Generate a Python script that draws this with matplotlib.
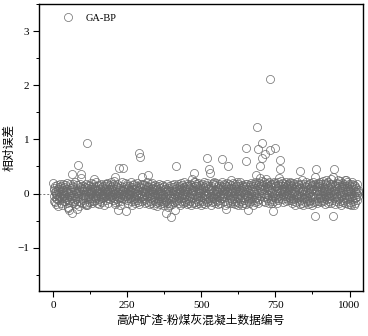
import numpy as np
import matplotlib
matplotlib.use("Agg")
import matplotlib.pyplot as plt
from matplotlib.ticker import MultipleLocator

plt.rcParams['font.family'] = ['Liberation Serif', 'Noto Sans CJK SC', 'DejaVu Sans']
plt.rcParams['axes.unicode_minus'] = True

# relative error band (hundredths), 100 samples per block
seg0 = [20,-13,6,-4,10,-16,3,13,-8,0,-19,5,16,-10,-3,9,-23,4,12,-6,1,-12,18,-5,8,-17,-1,14,-9,4,
        10,-21,-4,6,17,-13,0,-8,12,-3,16,-14,5,-10,3,19,-6,-18,9,1,-26,13,-4,8,-12,17,-1,-16,6,10,
        -5,3,-22,14,-9,0,12,-17,18,-3,8,-13,4,-6,22,-10,1,-19,5,16,-8,9,-14,3,-4,13,-23,6,-1,12,
        -16,4,17,-9,0,-5,10,-18,8,-12]
seg1 = [5,-9,14,-3,-17,8,0,12,-6,18,-12,4,-1,10,-21,6,16,-5,-10,3,13,-16,-4,9,1,-8,19,-13,5,-1,
        -18,12,3,-9,17,-4,-14,8,0,10,-6,14,-12,4,21,-3,-9,6,-17,1,9,-5,13,-19,3,-10,16,-1,8,-13,
        -4,18,-8,0,12,-16,5,-3,14,-9,1,-22,10,-6,17,-4,8,-12,3,13,-14,6,-1,19,-8,4,-18,9,-5,0,
        16,-10,3,-4,12,-21,8,-1,14,-6]
seg2 = [-3,17,-12,5,-8,23,0,-16,9,4,-19,13,-5,1,12,-10,18,-4,-14,8,3,-9,16,-1,-22,6,10,-6,0,14,
        -13,4,21,-8,-3,12,-17,5,9,-1,-10,19,-5,3,-16,8,13,-4,-12,1,17,-8,0,10,-18,4,-3,14,-9,6,
        -1,22,-13,5,-6,12,-21,3,16,-10,8,-4,-14,18,1,-8,9,-17,4,13,-5,0,10,-12,19,-3,-16,6,-9,14,
        3,-19,12,-1,8,-13,17,-6,5,-4]
seg3 = [10,-14,4,18,-8,0,-12,16,-5,9,-18,3,13,-1,-10,6,21,-16,-4,12,-8,14,-19,5,1,-13,17,-3,-9,8,
        4,-17,10,-6,19,-1,-12,3,14,-21,-5,9,-14,0,16,-9,6,-18,12,-3,-23,8,-4,13,-16,1,-8,18,-12,5,
        -1,-19,10,-5,4,-14,16,-9,0,-17,12,-3,-22,8,-10,14,-6,3,-16,9,-13,5,-4,17,-18,0,-8,10,-25,6,
        -3,13,-17,-9,4,-21,12,-5,-14,1]
seg4 = [-10,16,-19,4,-6,12,-16,0,18,-8,-22,9,-3,14,-13,5,-18,1,10,-5,17,-12,-1,8,-17,13,-9,3,-21,6,
        -4,19,-14,0,10,-8,16,-18,4,-3,12,-13,21,-6,-16,5,-1,14,-10,9,-19,3,17,-5,-12,13,0,-17,8,-8,
        18,-4,-14,10,1,-21,16,-9,6,-1,-13,12,4,-18,22,-6,-3,14,-16,5,9,-10,-19,17,0,-5,13,-14,3,19,
        -8,6,-17,10,-4,16,-12,1,-22,8]
seg5 = [4,-13,18,-6,10,-17,1,14,-9,21,-3,-19,12,5,-10,16,-5,0,-16,9,19,-8,3,-14,13,-1,-18,8,17,-12,
        -4,10,-21,6,14,-9,1,-16,18,-5,12,-13,4,22,-8,-1,16,-17,9,0,-10,19,-4,5,-14,13,-19,3,10,-6,
        17,-12,-3,8,-18,14,1,-9,21,-4,-16,6,12,-8,0,18,-13,4,-5,16,-21,9,-1,13,-10,3,19,-17,5,-6,
        14,-3,-12,17,8,-18,0,10,-9,4]
seg6 = [-6,16,-14,9,3,-10,19,-4,-17,12,1,-8,18,-13,5,-19,14,-1,8,-16,22,-5,-12,4,17,-9,0,13,-18,6,
        -3,21,-10,10,-14,3,16,-6,-21,12,5,-17,14,-1,9,-12,18,-8,0,-16,13,4,-19,17,-5,8,-13,23,-3,-9,
        12,-18,1,16,-10,6,-4,19,-14,0,9,-8,14,-21,5,17,-12,3,-5,13,-16,10,-1,18,-9,4,21,-13,8,-6,
        16,-3,-17,12,1,-10,19,-5,9,-14]
seg7 = [13,-4,18,-10,6,23,-8,1,16,-13,9,-1,21,-6,12,-16,4,17,-5,26,-9,10,0,19,-12,14,-3,8,-18,22,
        5,-8,16,-1,12,-14,18,3,-10,25,-4,9,17,-6,1,21,-13,8,14,-3,19,-9,5,13,-17,10,0,22,-5,16,
        -12,4,18,-8,12,1,-14,17,6,-3,23,-10,9,14,-5,3,19,-16,8,13,-1,17,-9,5,21,-4,12,-13,16,0,
        10,-6,18,4,-12,14,-3,8,22,-8]
seg8 = [6,-12,16,-4,10,-18,1,13,-8,19,-14,5,-1,17,-10,9,-21,3,14,-5,12,-16,21,-3,-9,8,0,18,-13,4,
        -6,16,-19,10,1,-12,17,-4,6,-17,13,-1,-22,9,4,-10,18,-8,0,14,-16,5,12,-5,21,-13,3,-9,16,-19,
        8,-3,17,-14,1,10,-6,19,-12,4,-18,13,-4,8,-21,16,0,-10,22,-5,9,-16,3,14,-8,18,-1,-13,6,12,
        -17,4,19,-9,0,13,-14,5,17,-6]
seg9 = [14,-8,21,-3,10,-16,5,18,-12,1,23,-5,-14,12,4,-9,17,0,-19,8,13,-4,19,-10,3,16,-17,6,-1,22,
        -8,10,-13,18,1,-5,14,-18,9,26,-3,-12,17,5,-16,12,-1,21,-9,4,16,-19,8,-6,13,0,-14,19,-4,10,
        -10,18,3,-17,14,-8,6,23,-13,1,12,-5,-21,16,8,-3,19,-12,4,-16,17,-9,0,13,-18,9,25,-6,3,-13,
        21,-1,-10,14,5,-19,10,-4,18,-8]
seg10 = [-16,9,-19,4,13,-22,1,-10,17,-5,-18,8,-13,12,-3,16,-21,5,-8,14,
         -17,3,10,-6,18,-12,0,6,-4,3]

# points that stand out of the band
out_idx = [51, 53, 62, 65, 81, 85, 93, 95, 110, 112, 115, 138, 180, 195, 209, 219, 222, 236,
           244, 290, 294, 301, 320, 382, 396, 410, 416, 470, 475, 480, 519, 526, 528, 540, 570,
           584, 589, 600, 620, 622, 649, 651, 657, 685, 688, 691, 697, 699, 703, 706, 716, 731,
           733, 739, 741, 747, 762, 764, 766, 800, 834, 840, 870, 882, 884, 886, 920, 944, 945,
           947, 962, 989, 1010]
out_val = [-0.25, -0.31, 0.36, -0.36, -0.28, 0.53, 0.36, 0.28, -0.20, -0.22, 0.94, 0.26, 0.18,
           0.22, 0.31, -0.31, 0.48, 0.48, -0.33, 0.74, 0.67, 0.30, 0.34, -0.36, -0.43, -0.31,
           0.51, 0.27, 0.37, 0.22, 0.65, 0.46, 0.38, 0.20, 0.63, -0.28, 0.51, 0.25, 0.22, -0.22,
           0.85, 0.60, -0.31, 0.34, 1.22, 0.83, 0.51, 0.28, 0.65, 0.93, 0.73, 0.80, 2.11, -0.17,
           -0.33, 0.85, 0.28, 0.62, 0.46, 0.20, 0.41, 0.25, -0.18, -0.42, 0.31, 0.45, 0.25,
           -0.42, 0.31, 0.46, 0.25, 0.25, 0.22]

err = np.array(seg0 + seg1 + seg2 + seg3 + seg4 + seg5 + seg6 + seg7 + seg8 + seg9 + seg10) / 100.0
err[out_idx] = out_val
idx = np.arange(len(err))

fig = plt.figure(figsize=(3.68, 3.36), dpi=100)
ax = fig.add_axes([0.106, 0.134, 0.880, 0.854])

ax.axhline(0, color="#777777", linestyle=(0, (2, 2)), linewidth=0.7, zorder=1)
ax.plot(idx, err, linestyle="none", marker="o", markersize=5.8, markerfacecolor="none",
        markeredgecolor="#6a6a6a", markeredgewidth=0.5, label="GA-BP", zorder=2)

ax.set_xlim(-48, 1045)
ax.set_ylim(-1.8, 3.5)
ax.xaxis.set_major_locator(MultipleLocator(250))
ax.xaxis.set_minor_locator(MultipleLocator(125))
ax.yaxis.set_major_locator(MultipleLocator(1))
ax.yaxis.set_minor_locator(MultipleLocator(0.5))
ax.tick_params(which="major", direction="out", length=4, width=0.8, labelsize=8, pad=3)
ax.tick_params(which="minor", direction="out", length=2, width=0.7)
ax.tick_params(top=False, right=False)
for s in ax.spines.values():
    s.set_linewidth(1.0)

ax.set_xlabel("高炉矿渣-粉煤灰混凝土数据编号", fontsize=8.5, labelpad=4)
ax.set_ylabel("相对误差", fontsize=8.5, labelpad=1)

leg = ax.legend(loc="upper left", bbox_to_anchor=(0.045, 1.0), frameon=False, fontsize=7.5,
                handletextpad=1.2, handlelength=1.0)

fig.savefig("out.png", dpi=100)
